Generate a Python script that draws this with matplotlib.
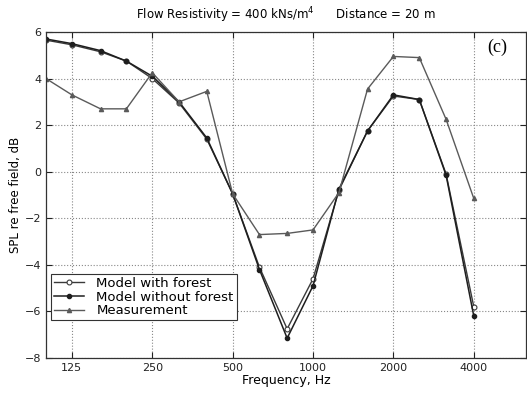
import numpy as np
import matplotlib.pyplot as plt
from matplotlib.ticker import FixedLocator, NullLocator

# third-octave band centre frequencies
freqs = [100, 125, 160, 200, 250, 315, 400, 500, 630, 800, 1000,
         1250, 1600, 2000, 2500, 3150, 4000]
# SPL re free field, dB
with_forest = [5.65, 5.45, 5.15, 4.75, 4.0, 2.95, 1.4, -0.95, -4.1, -6.75,
               -4.6, -0.8, 1.75, 3.25, 3.1, -0.1, -5.8]
without_forest = [5.7, 5.5, 5.2, 4.75, 4.1, 3.0, 1.45, -0.95, -4.2, -7.15,
                  -4.9, -0.75, 1.75, 3.3, 3.1, -0.15, -6.2]
measurement = [4.0, 3.3, 2.7, 2.7, 4.25, 3.0, 3.45, -0.95, -2.7, -2.65,
               -2.5, -0.9, 3.55, 4.95, 4.9, 2.25, -1.15]

xtick_vals = [125, 250, 500, 1000, 2000, 4000]
ytick_vals = [-8, -6, -4, -2, 0, 2, 4, 6]

plt.rcParams['font.family'] = ['DejaVu Sans']
plt.rcParams['font.size'] = 8

fig = plt.figure(figsize=(5.27, 3.94), dpi=100)
ax = fig.add_axes([0.0873, 0.0914, 0.911, 0.8274])

ax.plot(freqs, with_forest, color='#3a3a3a', lw=1.0, marker='o', ms=3.5,
        mfc='white', mec='#3a3a3a', mew=0.8, label='Model with forest')
ax.plot(freqs, without_forest, color='#1e1e1e', lw=1.1, marker='o', ms=3,
        label='Model without forest')
ax.plot(freqs, measurement, color='#5a5a5a', lw=1.0, marker='^', ms=3,
        label='Measurement')

ax.set_xscale('log')
ax.set_xlim(100, 6280)
ax.set_ylim(-8, 6)
ax.xaxis.set_major_locator(FixedLocator(xtick_vals))
ax.xaxis.set_minor_locator(NullLocator())
ax.set_xticklabels([str(v) for v in xtick_vals])
ax.set_yticks(ytick_vals)
ax.tick_params(direction='in', top=True, right=True, length=4,
               width=0.8, colors='#222222', labelsize=8)
ax.grid(True, ls=':', color='#888888', lw=0.8)
for s in ax.spines.values():
    s.set_color('#333333')
    s.set_linewidth(0.9)

ax.set_xlabel('Frequency, Hz', fontsize=9, labelpad=1)
ax.set_ylabel('SPL re free field, dB', fontsize=8.5, labelpad=2)
ax.set_title('Flow Resistivity = 400 kNs/m$^4$      Distance = 20 m',
             fontsize=8.5, pad=9)
ax.text(0.94, 0.954, '(c)', transform=ax.transAxes, ha='center',
        va='center', fontsize=13, family='Liberation Serif')

leg = ax.legend(loc='lower left', bbox_to_anchor=(0.01, 0.115),
                fontsize=9.5, handlelength=2.3, handletextpad=0.9,
                borderpad=0.25, labelspacing=0.05, fancybox=False,
                framealpha=1, borderaxespad=0)
leg.get_frame().set_edgecolor('#333333')
leg.get_frame().set_linewidth(0.8)

fig.savefig('out.png', dpi=100)
